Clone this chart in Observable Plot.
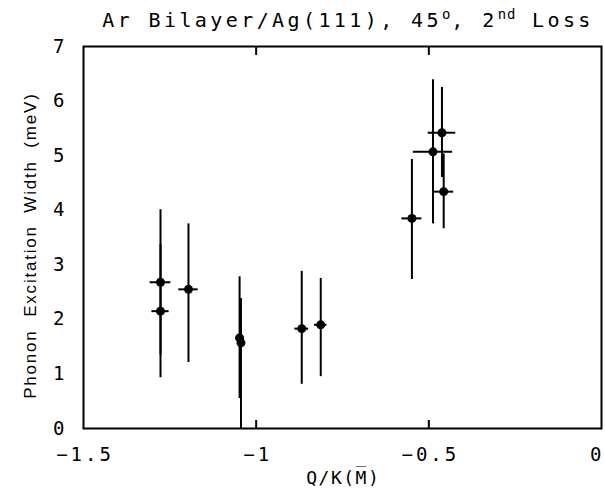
<!DOCTYPE html>
<html>
<head>
<meta charset="utf-8">
<script src="https://cdn.jsdelivr.net/npm/d3@7"></script>
<script src="https://cdn.jsdelivr.net/npm/@observablehq/plot@0.6"></script>
<style>
  html, body { margin: 0; padding: 0; background: #fff; }
  #wrap { width: 605px; position: relative; }
  #title { height: 30px; width: 605px; position: relative; font-family: "DejaVu Sans Mono", monospace; font-size: 20px; color: #000; }
  #title span.t { position: absolute; left: 348px; top: 8px; transform: translateX(-50%); white-space: nowrap; letter-spacing: 3.4px; }
  #title sup { font-size: 14px; vertical-align: 8px; line-height: 0; letter-spacing: 1px; }
</style>
</head>
<body>
<div id="wrap">
  <div id="title"><span class="t">Ar Bilayer/Ag(111), 45<sup>o</sup>, 2<sup>nd</sup> Loss</span></div>
  <div id="chart"></div>
</div>
<script>
// Data
const qx   = [-1.277, -1.277, -1.196, -1.048, -1.044, -0.868, -0.813, -0.549, -0.488, -0.462, -0.457];
const width = [2.68, 2.15, 2.55, 1.66, 1.57, 1.83, 1.90, 3.85, 5.07, 5.42, 4.34];
const widthLo = [1.35, 0.93, 1.21, 0.55, 0.00, 0.81, 0.95, 2.73, 3.75, 4.60, 3.66];
const widthHi = [4.01, 3.37, 3.75, 2.78, 2.38, 2.88, 2.75, 4.93, 6.39, 6.25, 5.03];
const qErr = [0.030, 0.025, 0.028, 0.010, 0.010, 0.020, 0.018, 0.029, 0.057, 0.040, 0.029];

const xTicks = [-1.5, -1, -0.5, 0];
const xInnerTicks = [-1, -0.5];
const yTicks = [0, 1, 2, 3, 4, 5, 6, 7];
const xLabel = "Q/K(M\u0305)";
const yLabel = "Phonon Excitation Width (meV)";

const data = qx.map((x, i) => ({x, y: width[i], lo: widthLo[i], hi: widthHi[i], x1: x - qErr[i], x2: x + qErr[i]}));

const mono = "DejaVu Sans Mono, monospace";
const sans = "Liberation Sans, Arial, sans-serif";

const chart = Plot.plot({
  width: 605,
  height: 459,
  marginLeft: 83,
  marginRight: 4,
  marginTop: 16,
  marginBottom: 61,
  style: {background: "#fff", color: "#000"},
  x: {domain: [-1.5, 0]},
  y: {domain: [0, 7]},
  marks: [
    Plot.ruleX(data, {x: "x", y1: "lo", y2: "hi", stroke: "#000", strokeWidth: 2}),
    Plot.ruleY(data, {y: "y", x1: "x1", x2: "x2", stroke: "#000", strokeWidth: 2}),
    Plot.dot(data, {x: "x", y: "y", r: 4.5, fill: "#000", stroke: "none"}),
    Plot.frame({stroke: "#000", strokeWidth: 2}),
    Plot.axisX({anchor: "bottom", ticks: xTicks, tickSize: 0, tickPadding: 19,
      tickFormat: d => String(d).replace("-", "\u2212"),
      fontFamily: mono, fontSize: 19, label: null}),
    Plot.axisX({anchor: "bottom", ticks: xInnerTicks, tickSize: -8, tickFormat: () => "", strokeWidth: 2, label: null}),
    Plot.axisX({anchor: "top", ticks: xInnerTicks, tickSize: -8, tickFormat: () => "", strokeWidth: 2, label: null}),
    Plot.axisY({anchor: "left", ticks: yTicks, tickSize: 0, tickPadding: 19, tickFormat: d => String(d),
      fontFamily: mono, fontSize: 19, label: null}),
    Plot.text([xLabel], {text: d => d, frameAnchor: "bottom", dy: 55, fontFamily: mono, fontSize: 18, fill: "#000"}),
    Plot.text([yLabel], {text: d => d, frameAnchor: "left", textAnchor: "middle", dx: -53, rotate: -90, fontFamily: sans, fontSize: 17, fill: "#000"})
  ]
});
document.getElementById("chart").appendChild(chart);

// typographic spacing to mimic the plotter lettering, re-centred after spacing
const svg = d3.select(chart);
function spaced(sel, letter, word, shift) {
  sel.style("letter-spacing", letter + "px").style("word-spacing", (word || 0) + "px");
  sel.each(function () {
    d3.select(this).attr("text-anchor", "start").attr("dx", 0);
    const len = this.getBBox().width - letter;
    d3.select(this).attr("dx", -len / 2 + (shift || 0));
  });
}
const xLabelTexts = svg.selectAll('g[aria-label="x-axis tick label"] text')
  .filter(function () { return this.textContent !== ""; });
spaced(xLabelTexts, 3);
xLabelTexts.filter(function () { return this.textContent === "0"; })
  .each(function () {
    d3.select(this).attr("dx", 0);
    const len = this.getBBox().width - 3;
    d3.select(this).attr("dx", -len);
  });
const allTexts = svg.selectAll("text");
spaced(allTexts.filter(function () { return this.textContent === xLabel; }), 1.5);
spaced(allTexts.filter(function () { return this.textContent === yLabel; }), 1.8, 6, -9);
</script>
</body>
</html>
